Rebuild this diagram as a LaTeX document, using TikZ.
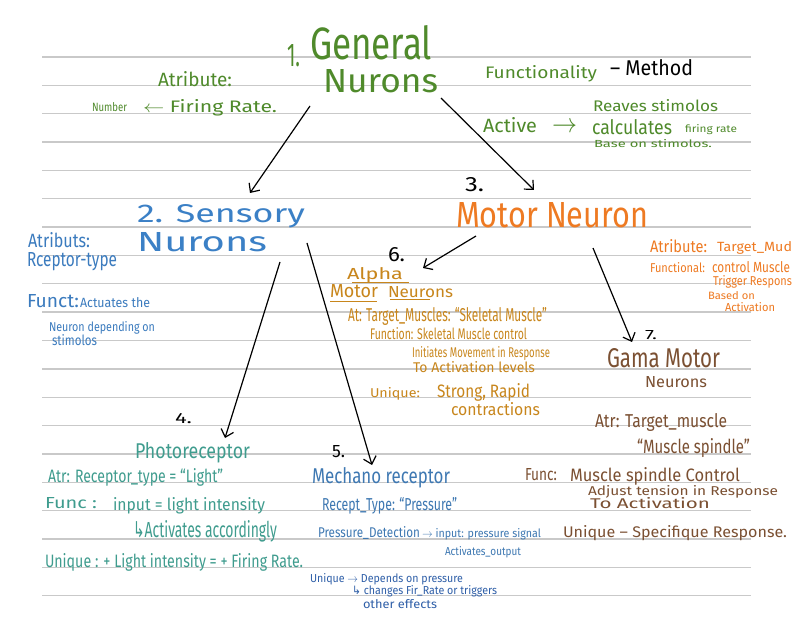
\documentclass[tikz,border=0pt]{standalone}
\usepackage{fontspec}
\setmainfont{Fira Sans}
\newfontfamily\symfont{DejaVu Sans}
\usepackage{graphicx}
\usepackage{xcolor}
\usetikzlibrary{arrows.meta,calc}
\definecolor{gengreen}{HTML}{4F8A2B}
\definecolor{sensblue}{HTML}{3B80C6}
\definecolor{leftblue}{HTML}{3B7BBE}
\definecolor{motororange}{HTML}{EE7A22}
\definecolor{alphabrown}{HTML}{C8861C}
\definecolor{gamabrown}{HTML}{7B5032}
\definecolor{photeal}{HTML}{3F9C8E}
\definecolor{mechblue}{HTML}{3E78B2}
\definecolor{mechdark}{HTML}{2F5FA8}
\newcommand{\hw}[3]{\resizebox{#1pt}{#2pt}{#3}}

\begin{document}
\begin{tikzpicture}[x=1pt,y=-1pt,
  rule/.style={draw=gray!42,line width=1.3pt},
  arr/.style={draw=black,line width=1.2pt,-{Straight Barb[length=7pt,width=13pt,line width=1.2pt]}},
  txt/.style={anchor=base west,inner sep=0pt,outer sep=0pt},
  gtxt/.style={txt,text=gengreen},
  ktxt/.style={txt,text=black},
  stxt/.style={txt,text=sensblue},
  ltxt/.style={txt,text=leftblue},
  otxt/.style={txt,text=motororange},
  atxt/.style={txt,text=alphabrown},
  mgtxt/.style={txt,text=gamabrown},
  ptxt/.style={txt,text=photeal},
  mtxt/.style={txt,text=mechblue},
  mdtxt/.style={txt,text=mechdark},
  uline/.style={draw=alphabrown,line width=1pt}]

  \fill[white] (0,0) rectangle (792,617);
  \useasboundingbox (0,0) rectangle (792,617);

  % ruled paper
  \foreach \i in {0,...,19}
    \draw[rule] (42,{57+28.35*\i}) -- (751,{57+28.35*\i});

  % 1. general neuron
  \node[gtxt] (n1)     at (287,67)  {\hw{13}{22}{1.}};
  \node[gtxt] (gen)    at (310,60)  {\hw{122}{34}{General}};
  \node[gtxt] (genb)   at (323,93)  {\hw{115}{23}{Nurons}};
  \node[gtxt] (gatr)   at (158,87)  {\hw{74}{15}{Atribute:}};
  \node[gtxt] (gnum)   at (92,112)  {\hw{35}{9}{Number}};
  \node[gtxt] (gfire)  at (143,113) {\hw{134}{13}{$\leftarrow$\ Firing Rate.}};
  \node[gtxt] (gfun)   at (485,79)  {\hw{112}{13}{Functionality}};
  \node[ktxt] (gmeth)  at (610,76)  {\hw{83}{16}{– Method}};
  \node[gtxt] (grec)   at (593,112) {\hw{125}{12}{Reaves stimolos}};
  \node[gtxt] (gact)   at (483,133) {\hw{54}{15}{Active}};
  \node[gtxt] (gto)    at (552,133) {\hw{25}{10}{$\rightarrow$}};
  \node[gtxt] (gcalc)  at (592,135) {\hw{80}{15}{calculates}};
  \node[gtxt] (grate)  at (685,133) {\hw{52}{8}{firing rate}};
  \node[gtxt] (gbase)  at (594,148) {\hw{118}{8}{Base on stimolos.}};

  % 2. sensory neuron
  \node[stxt] (sens)   at (137,223) {\hw{168}{18}{2. Sensory}};
  \node[stxt] (sensb)  at (137,252) {\hw{130}{19}{Nurons}};
  \node[ltxt] (satr)   at (28,248)  {\hw{62}{15}{Atributs:}};
  \node[ltxt] (stype)  at (27,267)  {\hw{90}{14}{Rceptor-type}};
  \node[ltxt] (sfun)   at (27,308)  {\hw{52}{13}{Funct:}};
  \node[ltxt] (sact)   at (80,308)  {\hw{70}{10}{Actuates the}};
  \node[ltxt] (sdep)   at (49,332)  {\hw{106}{10}{Neuron depending on}};
  \node[ltxt] (sstim)  at (52,345)  {\hw{45}{11}{stimolos}};

  % 3. motor neuron
  \node[ktxt] (n3)     at (465,192) {\hw{19}{14}{3.}};
  \node[otxt] (motor)  at (456,228) {\hw{192}{25}{Motor Neuron}};
  \node[otxt] (matr)   at (650,253) {\hw{57}{13}{Atribute:}};
  \node[otxt] (mtarg)  at (717,252) {\hw{75}{10}{Target\_Mud}};
  \node[otxt] (mfun)   at (650,273) {\hw{55}{10}{Functional:}};
  \node[otxt] (mctrl)  at (712,273) {\hw{78}{11}{control Muscle}};
  \node[otxt] (mtrig)  at (713,286) {\hw{79}{10}{Trigger Respons}};
  \node[otxt] (mbase)  at (708,300) {\hw{47}{8}{Based on}};
  \node[otxt] (mactv)  at (725,312) {\hw{50}{9}{Activation}};

  % 6. alpha motor neurons
  \node[ktxt] (n6)     at (388,262) {\hw{17}{14}{6.}};
  \node[atxt] (alpha)  at (347,280) {\hw{56}{12}{Alpha}};
  \node[atxt] (amot)   at (330,298) {\hw{48}{13}{Motor}};
  \node[atxt] (aneu)   at (388,298) {\hw{65}{11}{Neurons}};
  \draw[uline] ($(alpha.base west)+(5,3)$) -- ($(alpha.base east)+(6,3)$);
  \draw[uline] ($(amot.base west)+(0,4)$) -- ($(amot.base east)+(-1,4)$);
  \draw[uline] ($(aneu.base west)+(2,2)$) -- ($(aneu.base west)+(42,2)$);
  \node[atxt] (aatr)   at (348,322) {\hw{199}{14}{At: Target\_Muscles: “Skeletal Muscle”}};
  \node[atxt] (afun)   at (370,340) {\hw{157}{12}{Function: Skeletal Muscle control}};
  \node[atxt] (ainit)  at (412,358) {\hw{138}{11}{Initiates Movement in Response}};
  \node[atxt] (alev)   at (413,373) {\hw{122}{11}{To Activation levels}};
  \node[atxt] (auniq)  at (370,397) {\hw{50}{10}{Unique:}};
  \node[atxt] (astr)   at (437,397) {\hw{93}{14}{Strong, Rapid}};
  \node[atxt] (acont)  at (451,415) {\hw{89}{13}{contractions}};

  % 7. gama motor neurons
  \node[ktxt] (n7)     at (645,339) {\hw{12}{9}{7.}};
  \node[mgtxt] (gama)  at (607,367) {\hw{113}{19}{Gama Motor}};
  \node[mgtxt] (gamab) at (645,388) {\hw{62}{11}{Neurons}};
  \node[mgtxt] (gatr2) at (595,427) {\hw{132}{14}{Atr: Target\_muscle}};
  \node[mgtxt] (gspin) at (637,453) {\hw{113}{15}{“Muscle spindle”}};
  \node[mgtxt] (gfunc) at (525,480) {\hw{32}{12}{Func:}};
  \node[mgtxt] (gctrl) at (570,481) {\hw{170}{14}{Muscle spindle Control}};
  \node[mgtxt] (gadj)  at (588,495) {\hw{190}{10}{Adjust tension in Response}};
  \node[mgtxt] (gtoac) at (590,508) {\hw{120}{11}{To Activation}};
  \node[mgtxt] (guniq) at (563,537) {\hw{224}{12}{Unique – Specifique Response.}};

  % 4. photoreceptor
  \node[ktxt] (n4)     at (175,423) {\hw{17}{10}{4.}};
  \node[ptxt] (photo)  at (135,458) {\hw{115}{16}{Photoreceptor}};
  \node[ptxt] (patr)   at (48,482)  {\hw{175}{14}{Atr: Receptor\_type = “Light”}};
  \node[ptxt] (pfun)   at (45,508)  {\hw{52}{11}{Func :}};
  \node[ptxt] (pin)    at (113,510) {\hw{152}{13}{input = light intensity}};
  \node[ptxt] (pact)   at (133,537) {\hw{144}{17}{{\symfont ↳}Activates accordingly}};
  \node[ptxt] (puniq)  at (45,567)  {\hw{258}{14}{Unique : + Light intensity = + Firing Rate.}};

  % 5. mechanoreceptor
  \node[ktxt] (n5)     at (332,457) {\hw{13}{12}{5.}};
  \node[mtxt] (mech)   at (312,483) {\hw{138}{16}{Mechano receptor}};
  \node[mtxt] (mtype)  at (322,510) {\hw{135}{13}{Recept\_Type: “Pressure”}};
  \node[mtxt] (mdet)   at (318,537) {\hw{102}{11}{Pressure\_Detection}};
  \node[mtxt] (minp)   at (422,537) {\hw{119}{9}{$\rightarrow$ input: pressure signal}};
  \node[mtxt] (mout)   at (445,555) {\hw{76}{9}{Activates\_output}};
  \node[mdtxt] (muniq) at (310,582) {\hw{153}{9}{Unique $\rightarrow$ Depends on pressure}};
  \node[mdtxt] (mchg)  at (352,594) {\hw{145}{9}{{\symfont ↳} changes Fir\_Rate or triggers}};
  \node[mdtxt] (moth)  at (363,608) {\hw{74}{9}{other effects}};

  % connectors
  \coordinate (gen-l)  at (310,106);
  \coordinate (gen-r)  at (441,98);
  \coordinate (sens-in) at (250,193);
  \coordinate (mot-in) at (534,190);
  \coordinate (sens-l) at (280,262);
  \coordinate (sens-r) at (307,243);
  \coordinate (pho-in) at (225,438);
  \coordinate (mec-in) at (372,465);
  \coordinate (mot-l)  at (476,236);
  \coordinate (mot-r)  at (593,248);
  \coordinate (alp-in) at (423,268);
  \coordinate (gam-in) at (632,342);
  \draw[arr] (gen-l) -- (sens-in);
  \draw[arr] (gen-r) -- (mot-in);
  \draw[arr] (sens-l) -- (pho-in);
  \draw[arr] (sens-r) -- (mec-in);
  \draw[arr] (mot-l) -- (alp-in);
  \draw[arr] (mot-r) -- (gam-in);
\end{tikzpicture}
\end{document}
